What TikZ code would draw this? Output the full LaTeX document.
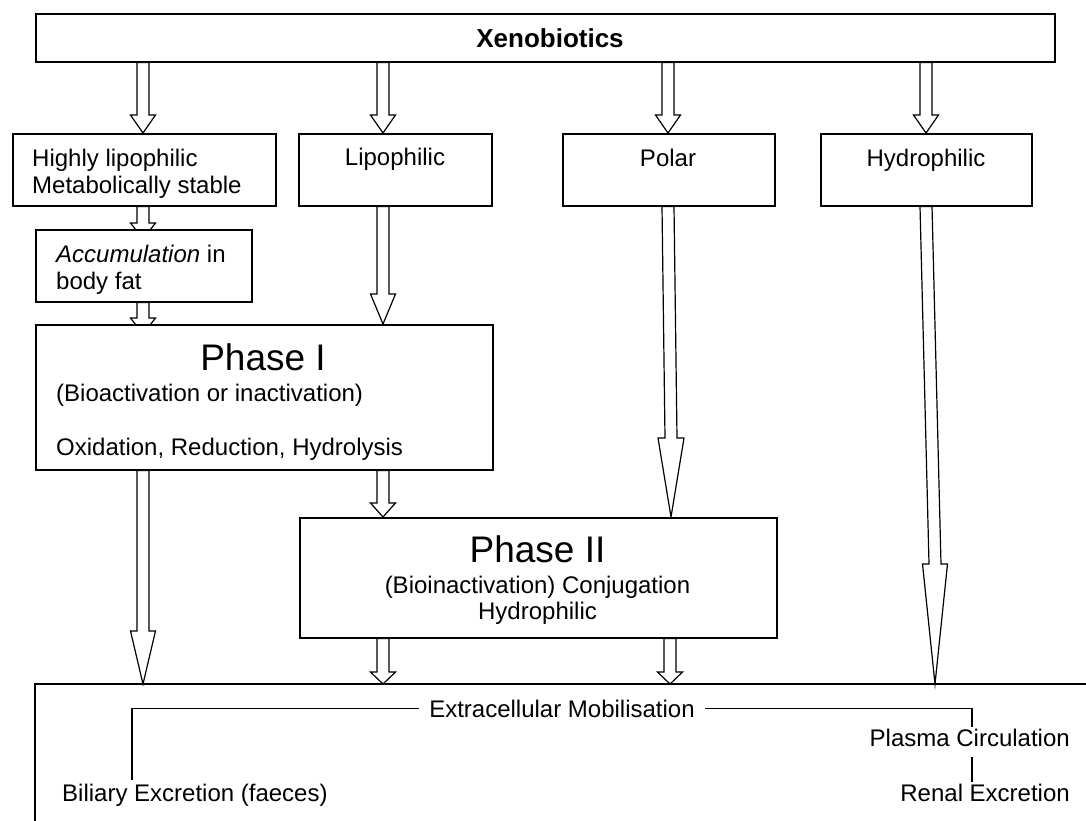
\documentclass[tikz,border=0pt]{standalone}
\usepackage{fontspec}
\setmainfont{Liberation Sans}
\usetikzlibrary{calc,backgrounds}
\tikzset{
  box/.style={draw, line width=1.6pt, fill=white, inner sep=0pt, anchor=north west},
  txt/.style={inner sep=0pt, font=\fontsize{24}{28}\selectfont},
  big/.style={inner sep=0pt, font=\fontsize{37}{42}\selectfont},
  blk/.style={draw, line width=1.2pt, fill=white, line join=miter},
  conn/.style={line width=1.3pt}
}
\newcommand\blockarr[7]{%
  \path[blk] let \p1=(#1.south), \p2=(#2.north) in
   (#3pt-6pt,\y1) -- (#4pt-6pt,\y2-#6pt+#5pt) -- (#4pt-#7pt,\y2-#6pt+#5pt) -- (#4pt,\y2-#6pt)
   -- (#4pt+#7pt,\y2-#6pt+#5pt) -- (#4pt+6pt,\y2-#6pt+#5pt) -- (#3pt+6pt,\y1) -- cycle;}
\begin{document}
\begin{tikzpicture}[x=1pt,y=-1pt]
\useasboundingbox (0,0) rectangle (1086,820);
% boxes
\node[box, minimum width=1019pt, minimum height=48pt] (xeno) at (35,13) {};
\node[box, minimum width=263pt, minimum height=72pt] (hl) at (12,133) {};
\node[box, minimum width=193pt, minimum height=72pt] (lip) at (298,133) {};
\node[box, minimum width=212pt, minimum height=72pt] (polar) at (562,133) {};
\node[box, minimum width=211pt, minimum height=72pt] (hyd) at (820,133) {};
\node[box, minimum width=216pt, minimum height=72pt] (acc) at (35,229) {};
\node[box, minimum width=457pt, minimum height=145pt] (ph1) at (35,324) {};
\node[box, minimum width=477pt, minimum height=120pt] (ph2) at (299,517) {};
\node[inner sep=0pt, outer sep=0pt, anchor=north west, minimum width=1060pt, minimum height=140pt] (excr) at (35,684) {};
\draw[line width=1.6pt] (excr.north east) -- (excr.north west) -- (excr.south west);
% texts
\node[inner sep=0pt, font=\bfseries\fontsize{26}{30}\selectfont, anchor=base] (tx) at (550,47) {Xenobiotics};
\node[txt, anchor=base west] (hlA) at (32,166) {Highly lipophilic};
\node[txt, anchor=base west] (hlB) at (32,193) {Metabolically stable};
\node[txt, anchor=base] (tlip) at (395,165) {Lipophilic};
\node[txt, anchor=base] (tpol) at (668,166) {Polar};
\node[txt, anchor=base] (thyd) at (926,166) {Hydrophilic};
\node[txt, anchor=base west] (accA) at (56,262) {\itshape Accumulation\upshape{} in};
\node[txt, anchor=base west] (accB) at (56,289) {body fat};
\node[big, anchor=base] (tph1) at (263,370) {Phase I};
\node[txt, anchor=base west] (ph1A) at (56,401) {(Bioactivation or inactivation)};
\node[txt, anchor=base west] (ph1B) at (56,455) {Oxidation, Reduction, Hydrolysis};
\node[big, anchor=base] (tph2) at (537.5,562) {Phase II};
\node[txt, anchor=base] (ph2A) at (537.5,593) {(Bioinactivation) Conjugation};
\node[txt, anchor=base] (ph2B) at (537.5,619) {Hydrophilic};
\node[txt, anchor=base, inner xsep=10pt] (ecm) at (562,717) {Extracellular Mobilisation};
\node[txt, anchor=base east] (plasma) at (1070,746) {Plasma Circulation};
\node[txt, anchor=base east] (renal) at (1070,801) {Renal Excretion};
\node[txt, anchor=base west] (bil) at (62,801) {Biliary Excretion (faeces)};
% tree lines
\coordinate (cL) at (132,780);
\coordinate (cR) at (972,727);
\coordinate (pBot) at (972,757);
\coordinate (rTop) at (972,782);
\draw[conn] (ecm.west) -| (cL);
\draw[conn] (ecm.east) -| (cR);
\draw[conn] (pBot) -- (rTop);
% block arrows
\begin{pgfonlayer}{background}
\blockarr{xeno}{hl}{143}{143}{18}{0}{12.5}
\blockarr{xeno}{lip}{383}{383}{18}{0}{12.5}
\blockarr{xeno}{polar}{668}{668}{18}{0}{12.5}
\blockarr{xeno}{hyd}{926}{926}{18}{0}{12.5}
\blockarr{hl}{acc}{143}{143}{16}{10}{12.5}
\blockarr{lip}{ph1}{383}{383}{30}{0}{12.5}
\blockarr{acc}{ph1}{143}{143}{16}{10}{12.5}
\blockarr{polar}{ph2}{668}{671}{79}{0}{13}
\blockarr{hyd}{excr}{926}{935}{120}{0}{12.5}
\blockarr{ph1}{excr}{143}{143}{53}{0}{12.5}
\blockarr{ph1}{ph2}{383}{383}{14}{0}{12.5}
\blockarr{ph2}{excr}{383}{383}{12}{0}{12.5}
\blockarr{ph2}{excr}{670}{670}{12}{0}{12.5}
\end{pgfonlayer}
\end{tikzpicture}
\end{document}
